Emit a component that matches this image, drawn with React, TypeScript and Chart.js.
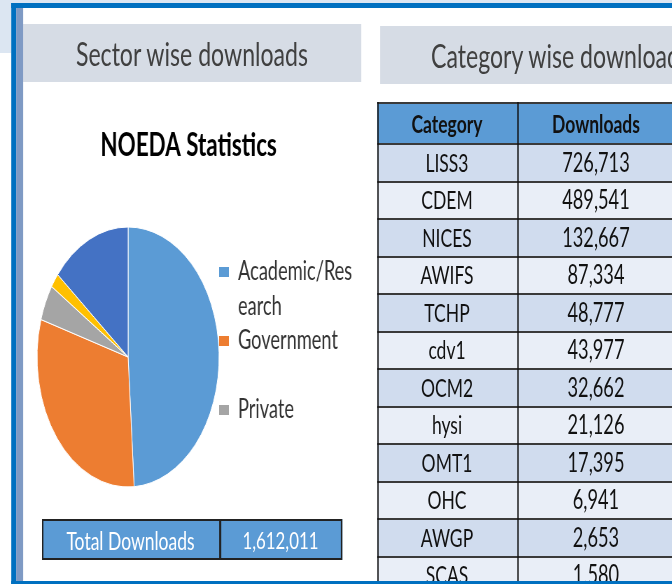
import React, { useEffect, useRef } from 'react';
import { Chart, registerables } from 'chart.js';

Chart.register(...registerables);

// ---- data ----
const sectorLabels = ['Academic/Research', 'Government', 'Private', 'NGO', 'Others'];
const sectorValues = [789000, 495000, 72000, 29000, 227011];
const sectorColors = ['#5b9bd5', '#ed7d31', '#a5a5a5', '#ffc000', '#4472c4'];
const legendShown = 3;
const legendExtraLines = [0, 1, 0];

const categoryNames = ['LISS3', 'CDEM', 'NICES', 'AWIFS', 'TCHP', 'cdv1', 'OCM2', 'hysi', 'OMT1', 'OHC', 'AWGP', 'SCAS'];
const categoryDownloads = [726713, 489541, 132667, 87334, 48777, 43977, 32662, 21126, 17395, 6941, 2653, 1580];
const totalDownloads = 1612011;

// ---- layout helpers ----
const K = 0.7; // the original screenshot is squeezed horizontally
const sx = (v: number) => v / K;
const FONT = 'Lato, "Open Sans", sans-serif';
const fmt = (n: number) => n.toLocaleString('en-US');

const wrapLabel = (label: string, i: number): string[] => {
  const lines: string[] = [];
  for (let p = 0; p < label.length; p += 12) lines.push(label.slice(p, p + 12));
  for (let k = 0; k < (legendExtraLines[i] || 0); k++) lines.push('');
  return lines;
};

// lets the legend text run past its (narrow) layout box instead of being clipped
const legendUnclip = {
  id: 'legendUnclip',
  afterLayout(chart: any) {
    const lg = chart.legend;
    if (lg) {
      lg.right += 60;
      lg.width += 60;
    }
  },
};

function SectorPie() {
  const ref = useRef<HTMLCanvasElement>(null);
  useEffect(() => {
    const chart = new Chart(ref.current as HTMLCanvasElement, {
      type: 'pie',
      data: {
        labels: sectorLabels,
        datasets: [
          {
            data: sectorValues,
            backgroundColor: sectorColors,
            borderColor: '#ffffff',
            borderWidth: 1,
            radius: 130,
          } as any,
        ],
      },
      options: {
        responsive: false,
        animation: false,
        devicePixelRatio: 1,
        layout: { padding: { left: 20, right: 47.2, top: 0, bottom: 0 } },
        plugins: {
          tooltip: { enabled: false },
          title: {
            display: true,
            text: 'NOEDA Statistics',
            color: '#000000',
            font: { family: FONT, size: 32, weight: 'bold', lineHeight: 1.2 },
            padding: { top: 26.8, bottom: 38.8 },
          },
          legend: {
            position: 'right',
            align: 'start',
            maxWidth: 172.8,
            title: {
              display: true,
              text: '',
              font: { size: 10, lineHeight: 1.2 },
              padding: { top: 147, bottom: 0 },
            },
            labels: {
              boxWidth: 14,
              boxHeight: 10,
              padding: 0,
              color: '#333333',
              font: { family: FONT, size: 26, lineHeight: '34.5px' as any },
              generateLabels: (c: any) => {
                const ds = c.data.datasets[0];
                return (c.data.labels as string[]).slice(0, legendShown).map((label, i) => ({
                  text: wrapLabel(label, i) as any,
                  fillStyle: ds.backgroundColor[i],
                  strokeStyle: ds.backgroundColor[i],
                  lineWidth: 0,
                  hidden: false,
                  index: i,
                  fontColor: '#333333',
                }));
              },
            },
          },
        },
      } as any,
      plugins: [legendUnclip],
    });
    return () => chart.destroy();
  }, []);
  return (
    <canvas
      ref={ref}
      width={500}
      height={410}
      style={{ position: 'absolute', left: sx(23), top: 100 }}
    />
  );
}

const abs = (x: number, y: number, w: number, h: number, extra: React.CSSProperties = {}): React.CSSProperties => ({
  position: 'absolute',
  left: sx(x),
  top: y,
  width: sx(w),
  height: h,
  boxSizing: 'border-box',
  ...extra,
});

const center: React.CSSProperties = {
  display: 'flex',
  alignItems: 'center',
  justifyContent: 'center',
  whiteSpace: 'nowrap',
};

export default function App() {
  const rowTop = 143;
  const rowH = 37.5;
  const lineC = '#3a3a3a';
  return (
    <div style={{ position: 'fixed', left: 0, top: 0, width: 672, height: 584, overflow: 'hidden', background: '#ffffff' }}>
      <div
        style={{
          position: 'absolute',
          left: 0,
          top: 0,
          width: sx(672),
          height: 584,
          transform: `scaleX(${K})`,
          transformOrigin: '0 0',
          fontFamily: FONT,
        }}
      >
        {/* light blue backdrop */}
        <div style={abs(0, 0, 672, 3, { background: '#dce6f2' })} />
        <div style={abs(0, 0, 11, 53, { background: '#dce6f2' })} />

        {/* section headers */}
        <div style={abs(23, 24, 338, 58, { background: '#d6dce5', color: '#404040', fontSize: 33, ...center })}>
          Sector wise downloads
        </div>
        <div
          style={abs(380, 26, 320, 58, {
            background: '#d6dce5',
            color: '#404040',
            fontSize: 33,
            display: 'flex',
            alignItems: 'center',
            paddingLeft: sx(51),
            whiteSpace: 'nowrap',
          })}
        >
          Category wise downloads
        </div>

        <SectorPie />

        {/* total downloads */}
        <div style={abs(42, 519, 300, 41, { background: '#5b9bd5', border: `${sx(2)}px solid #222`, borderTopWidth: 2, borderBottomWidth: 2 })} />
        <div style={abs(219, 519, 2, 41, { background: '#222' })} />
        <div style={abs(42, 519, 177, 41, { color: '#ffffff', fontSize: 25, ...center })}>Total Downloads</div>
        <div style={abs(219, 519, 123, 41, { color: '#ffffff', fontSize: 24, ...center })}>{fmt(totalDownloads)}</div>

        {/* category table */}
        <div style={abs(377, 102, 310, 42, { background: '#5b9bd5', borderTop: `2px solid ${lineC}` })} />
        <div style={abs(377, 102, 140, 42, { color: '#111', fontSize: 25, fontWeight: 'bold', ...center })}>Category</div>
        <div style={abs(517, 102, 158, 42, { color: '#111', fontSize: 25, fontWeight: 'bold', ...center })}>Downloads</div>
        {categoryNames.map((name, i) => (
          <React.Fragment key={name}>
            <div
              style={abs(377, rowTop + i * rowH, 310, rowH, {
                background: i % 2 === 0 ? '#d0dcee' : '#e9eef7',
                borderTop: `2px solid ${lineC}`,
              })}
            />
            <div style={abs(377, rowTop + i * rowH, 140, rowH, { color: '#111', fontSize: 25, ...center })}>{name}</div>
            <div style={abs(517, rowTop + i * rowH, 158, rowH, { color: '#111', fontSize: 26, ...center })}>
              {fmt(categoryDownloads[i])}
            </div>
          </React.Fragment>
        ))}
        <div style={abs(377, 102, 2, 490, { background: '#111' })} />
        <div style={abs(517, 102, 2, 490, { background: '#111' })} />

        {/* frame */}
        <div style={abs(11, 3, 661, 5, { background: '#0070c0' })} />
        <div style={abs(11, 3, 5, 581, { background: '#0070c0' })} />
        <div style={abs(16, 8, 7, 573, { background: '#7f9ac4' })} />
        <div style={abs(11, 581, 661, 3, { background: '#0070c0' })} />
      </div>
    </div>
  );
}
